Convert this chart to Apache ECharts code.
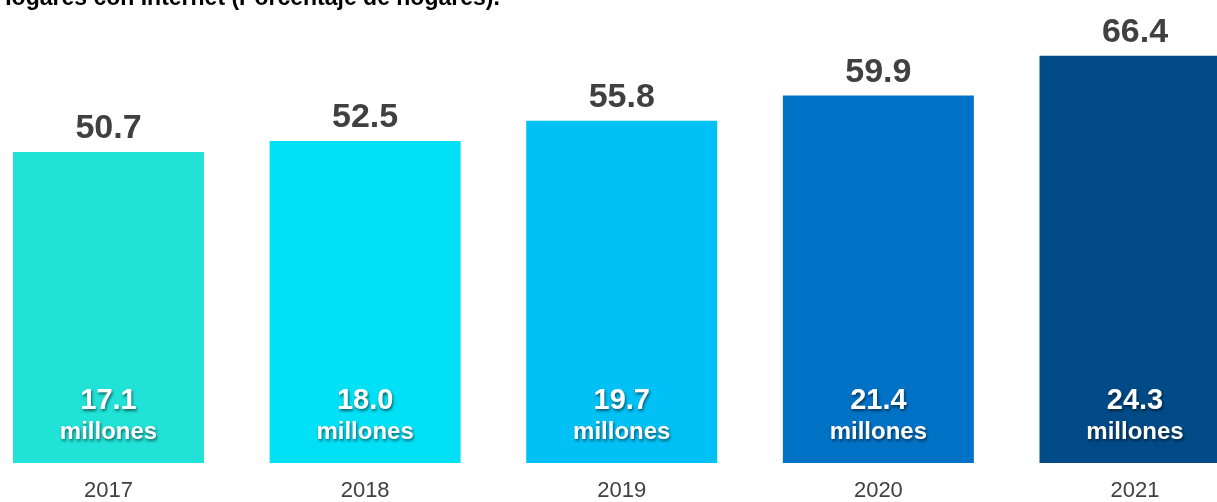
<!DOCTYPE html>
<html>
<head>
<meta charset="utf-8">
<style>
  html, body { margin: 0; padding: 0; background: #ffffff; }
  #chart { width: 1217px; height: 502px; }
</style>
<script src="https://cdn.jsdelivr.net/npm/echarts@6/dist/echarts.min.js"></script>
</head>
<body>
<div id="chart"></div>
<script>
// Households with Internet access, Mexico 2017-2021
const years = ['2017', '2018', '2019', '2020', '2021'];
const pctHouseholds = [50.7, 52.5, 55.8, 59.9, 66.4];
const millionHouseholds = [17.1, 18.0, 19.7, 21.4, 24.3];

const palette = ['#20e2d6', '#00e1f6', '#00c1f6', '#0072c6', '#004b87'];
const FONT = '"Liberation Sans", Arial, Helvetica, sans-serif';

const chart = echarts.init(document.getElementById('chart'), null, { renderer: 'canvas' });

const innerShadow = {
  textShadowColor: 'rgba(0,0,0,0.55)', textShadowBlur: 3, textShadowOffsetX: 1, textShadowOffsetY: 2
};

chart.setOption({
  backgroundColor: '#ffffff',
  animation: false,
  title: {
    text: 'Hogares con Internet (Porcentaje de hogares).',
    left: -5,
    top: -13,
    padding: 0,
    textStyle: { fontFamily: FONT, fontSize: 23, fontWeight: 'bold', color: '#000000' }
  },
  // category ticks sit on the grid edges; the last bar runs past the right edge
  grid: { left: 108.5, right: 82, top: 3, bottom: 37, containLabel: false },
  xAxis: {
    type: 'category',
    data: years,
    boundaryGap: false,
    axisLine: { show: false },
    axisTick: { show: false },
    axisLabel: { fontFamily: FONT, fontSize: 22, color: '#404040', margin: 17 }
  },
  yAxis: {
    type: 'value',
    min: 0,
    max: 75,
    show: false,
    splitLine: { show: false }
  },
  series: [
    {
      name: 'Porcentaje',
      type: 'bar',
      barWidth: 191,
      data: pctHouseholds.map((v, i) => ({ value: v, itemStyle: { color: palette[i] } })),
      label: {
        show: true,
        position: 'top',
        distance: 6,
        fontFamily: FONT,
        fontSize: 34,
        fontWeight: 'bold',
        color: '#404040',
        formatter: p => p.value.toFixed(1)
      }
    },
    {
      name: 'Millones',
      type: 'bar',
      barWidth: 191,
      barGap: '-100%',
      silent: true,
      z: 3,
      data: pctHouseholds,
      itemStyle: { color: 'rgba(0,0,0,0)' },
      label: {
        show: true,
        position: 'insideBottom',
        distance: 19,
        formatter: p => '{n|' + millionHouseholds[p.dataIndex].toFixed(1) + '}\n{m|millones}',
        rich: {
          n: Object.assign({
            fontFamily: FONT, fontSize: 29, fontWeight: 'bold', color: '#ffffff',
            lineHeight: 38, align: 'center'
          }, innerShadow),
          m: Object.assign({
            fontFamily: FONT, fontSize: 24, fontWeight: 'bold', color: '#ffffff',
            lineHeight: 24, align: 'center'
          }, innerShadow)
        }
      }
    }
  ]
});
</script>
</body>
</html>
